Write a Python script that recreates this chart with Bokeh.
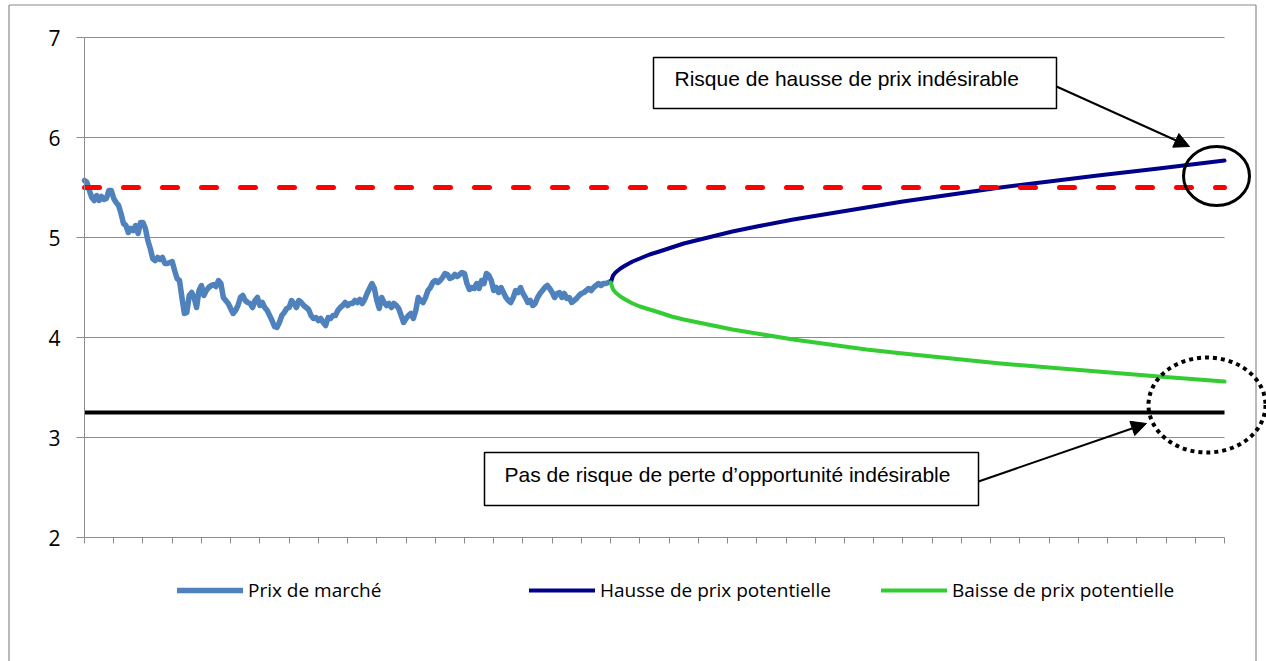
from bokeh.plotting import figure
from bokeh.models import (Range1d, FixedTicker, Legend, LegendItem, Label,
                          BoxAnnotation, Arrow, NormalHead)
from bokeh.embed import file_html
from bokeh.resources import INLINE

# ---------------- data ----------------
prix_marche = [
    5.57, 5.55, 5.47, 5.40, 5.37, 5.42, 5.37, 5.41, 5.38, 5.39,
    5.47, 5.47, 5.39, 5.35, 5.32, 5.24, 5.14, 5.12, 5.05, 5.09,
    5.07, 5.12, 5.04, 5.15, 5.15, 5.09, 4.97, 4.89, 4.79, 4.77,
    4.80, 4.78, 4.80, 4.74, 4.74, 4.75, 4.76, 4.67, 4.59, 4.57,
    4.40, 4.24, 4.25, 4.42, 4.45, 4.40, 4.30, 4.47, 4.52, 4.42,
    4.47, 4.50, 4.52, 4.53,
    4.51, 4.57, 4.54, 4.40, 4.37, 4.34, 4.29, 4.24, 4.27, 4.32,
    4.40, 4.42, 4.37, 4.35, 4.34, 4.30, 4.37, 4.40, 4.32, 4.35,
    4.30, 4.27, 4.22, 4.17, 4.11, 4.10, 4.15, 4.22, 4.25, 4.29,
    4.30, 4.37, 4.34, 4.30, 4.37, 4.35, 4.32, 4.30, 4.28, 4.22,
    4.19, 4.20, 4.17, 4.19, 4.15, 4.12, 4.20, 4.19, 4.22, 4.22,
    4.27, 4.30, 4.32, 4.35, 4.32, 4.34,
    4.34, 4.37, 4.35, 4.38, 4.34, 4.38, 4.44, 4.49, 4.54, 4.49,
    4.37, 4.29, 4.40, 4.35, 4.32, 4.34, 4.30, 4.34, 4.32, 4.29,
    4.22, 4.15, 4.19, 4.22, 4.24, 4.19, 4.27, 4.40, 4.37, 4.35,
    4.40, 4.47, 4.50, 4.55, 4.57, 4.55, 4.57, 4.60, 4.64, 4.63,
    4.59, 4.60, 4.63, 4.61, 4.63, 4.65, 4.64, 4.54, 4.48, 4.50,
    4.49, 4.54, 4.49, 4.57, 4.54, 4.64, 4.62, 4.57,
    4.47, 4.50, 4.45, 4.50, 4.45, 4.40, 4.37, 4.35, 4.40, 4.47,
    4.45, 4.50, 4.44, 4.40, 4.35, 4.37, 4.32, 4.34, 4.40, 4.44,
    4.47, 4.50, 4.52, 4.49, 4.45, 4.40, 4.44, 4.45, 4.40, 4.44,
    4.39, 4.40, 4.35, 4.37, 4.39, 4.42, 4.44, 4.45, 4.47, 4.49,
    4.47, 4.50, 4.52, 4.54, 4.52, 4.54, 4.54, 4.55, 4.56,
]
jours_marche = list(range(len(prix_marche)))

# forecast horizon (days after the last market price)
echeances = [0, 1, 2, 4, 6, 9, 12, 16, 20, 25, 30, 40, 50, 60, 75, 90,
             105, 120, 140, 160, 180, 200, 225, 252]
hausse = [4.55, 4.62, 4.65, 4.69, 4.72, 4.76, 4.79, 4.83, 4.86, 4.90, 4.94,
          5.00, 5.06, 5.11, 5.18, 5.24, 5.30, 5.36, 5.43, 5.50, 5.56, 5.62,
          5.69, 5.77]
baisse = [4.55, 4.48, 4.45, 4.41, 4.38, 4.34, 4.31, 4.28, 4.25, 4.21, 4.18,
          4.13, 4.08, 4.04, 3.98, 3.93, 3.88, 3.84, 3.79, 3.74, 3.70, 3.66,
          3.61, 3.56]
jours_prevision = [jours_marche[-1] + e for e in echeances]

seuil_haut = 5.5
seuil_bas = 3.25
y_ticks = [2, 3, 4, 5, 6, 7]
x_ticks = list(range(0, 469, 12))
noms = ["Prix de marché", "Hausse de prix potentielle", "Baisse de prix potentielle"]
note_haut = "Risque de hausse de prix indésirable"
note_bas = "Pas de risque de perte d\u2019opportunit\u00e9 ind\u00e9sirable"

# ---------------- layout helpers (page pixels -> data) ----------------
X_MIN, X_MAX = x_ticks[0], x_ticks[-1]
PX_X0, PX_X1 = 84, 1224          # page x of x=X_MIN and x=X_MAX
PX_Y7, PX_PER_Y = 37, 100        # page y of y=7, pixels per unit
SX = (PX_X1 - PX_X0) / (X_MAX - X_MIN)

def dx(px):
    return X_MIN + (px - PX_X0) / SX

def dy(py):
    return 7 - (py - PX_Y7) / PX_PER_Y

W, H = 1266, 661  # canvas at page (0,0)

p = figure(width=W, height=H, output_backend="svg", toolbar_location=None,
           x_range=Range1d(dx(0), dx(W)), y_range=Range1d(dy(H), dy(0)),
           min_border=0, min_border_left=0, min_border_right=0,
           min_border_top=0, min_border_bottom=0)
p.outline_line_color = None
p.background_fill_color = "white"
p.border_fill_color = "white"
p.grid.visible = False

GRAY = "#8c8c8c"

# axes
yax = p.yaxis[0]
yax.fixed_location = X_MIN
yax.bounds = (2, 7)
yax.ticker = FixedTicker(ticks=y_ticks)
yax.axis_line_color = GRAY
yax.major_tick_line_color = GRAY
yax.major_tick_out = 8
yax.major_tick_in = 0
yax.minor_tick_line_color = None
yax.major_label_standoff = 16
yax.major_label_text_font = "Open Sans"
yax.major_label_text_font_size = "21px"
yax.major_label_text_color = "black"

xax = p.xaxis[0]
xax.fixed_location = 2
xax.bounds = (X_MIN, X_MAX)
xax.ticker = FixedTicker(ticks=x_ticks)
xax.axis_line_color = GRAY
xax.major_tick_line_color = GRAY
xax.major_tick_out = 6
xax.major_tick_in = 0
xax.minor_tick_line_color = None
xax.major_label_overrides = {t: "" for t in x_ticks}

# horizontal gridlines
gy = [t for t in y_ticks if t > 2]
p.segment(x0=[X_MIN] * len(gy), y0=gy, x1=[X_MAX] * len(gy), y1=gy,
          line_color=GRAY, line_width=1)

# chart-area border
p.segment(x0=[dx(8.5), dx(1255.5), dx(8.5)], y0=[dy(4.5), dy(4.5), dy(4.5)],
          x1=[dx(8.5), dx(1255.5), dx(1255.5)], y1=[dy(H), dy(H), dy(4.5)],
          line_color="#8a8a8a", line_width=1.2)

# threshold lines
p.line([X_MIN, X_MAX], [seuil_bas, seuil_bas], line_color="black", line_width=4)

r_m = p.line(jours_marche, prix_marche, line_color="#4F81BD", line_width=5.5,
             line_cap="round", line_join="round")
r_h = p.line(jours_prevision, hausse, line_color="#00008B", line_width=4,
             line_cap="round", line_join="round")
r_b = p.line(jours_prevision, baisse, line_color="#33CC33", line_width=4,
             line_cap="round", line_join="round")

p.line([X_MIN, X_MAX], [seuil_haut, seuil_haut], line_color="#FF0000",
       line_width=5, line_dash="15 24", line_cap="round")

# circles
p.ellipse(x=[dx(1216)], y=[dy(175.5)], width=[66], height=[59],
          width_units="screen", height_units="screen",
          fill_color=None, line_color="black", line_width=3)
p.ellipse(x=[dx(1206.5)], y=[dy(404.5)], width=[117], height=[95],
          width_units="screen", height_units="screen",
          fill_color=None, line_color="black", line_width=4, line_dash="4 4")

# annotation boxes
for (l, r, t, b) in [(653, 1056, 57, 108), (484, 978, 452, 505)]:
    p.add_layout(BoxAnnotation(left=dx(l), right=dx(r), top=dy(t), bottom=dy(b),
                               fill_color="white", fill_alpha=1.0,
                               line_color="black", line_alpha=1.0, line_width=1.5))
p.add_layout(Label(x=dx(674), y=dy(78), text=note_haut, text_font="Liberation Sans",
                   text_font_size="21px", text_baseline="middle", text_align="left",
                   text_color="black"))
p.add_layout(Label(x=dx(504), y=dy(474), text=note_bas, text_font="Liberation Sans",
                   text_font_size="21px", text_baseline="middle", text_align="left",
                   text_color="black"))

p.add_layout(Arrow(end=NormalHead(size=15, fill_color="black", line_color="black"),
                   x_start=dx(1056), y_start=dy(86), x_end=dx(1189), y_end=dy(146),
                   line_color="black", line_width=2))
p.add_layout(Arrow(end=NormalHead(size=15, fill_color="black", line_color="black"),
                   x_start=dx(978), y_start=dy(481), x_end=dx(1146), y_end=dy(423),
                   line_color="black", line_width=2))

legend = Legend(items=[LegendItem(label=noms[0], renderers=[r_m]),
                       LegendItem(label=noms[1], renderers=[r_h]),
                       LegendItem(label=noms[2], renderers=[r_b])],
                orientation="horizontal", location=(177, 58),
                glyph_width=66, glyph_height=24, label_height=24, label_width=281,
                label_standoff=5, spacing=0, padding=0, margin=0,
                border_line_color=None, background_fill_alpha=0,
                label_text_font="Open Sans", label_text_font_size="19px",
                label_text_color="black", label_text_baseline="middle")
p.add_layout(legend)

open("out.html", "w").write(file_html(p, INLINE))
